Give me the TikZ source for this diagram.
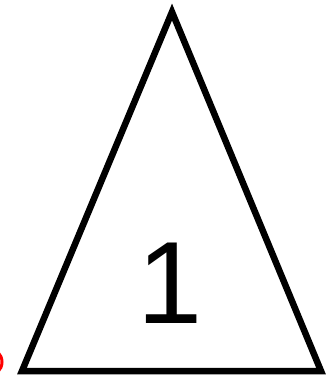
\documentclass[tikz,border=0pt]{standalone}
\usepackage{fontspec}
\setmainfont{Liberation Sans}
\begin{document}
\begin{tikzpicture}[x=1pt,y=-1pt,
  tri/.style={draw=black,line width=6.5pt,line join=miter},
  lbl/.style={font=\fontsize{117}{117}\selectfont,inner sep=0pt}]
\useasboundingbox (0,0) rectangle (329,377);
\draw[red,line width=3pt] (-12,362) circle[radius=14];
\coordinate (A) at (172,12);
\coordinate (B) at (22,371);
\coordinate (C) at (321,371);
\draw[tri] (A) -- (B) -- (C) -- cycle;
\node[lbl] (one) at (170,283) {1};
\end{tikzpicture}
\end{document}
